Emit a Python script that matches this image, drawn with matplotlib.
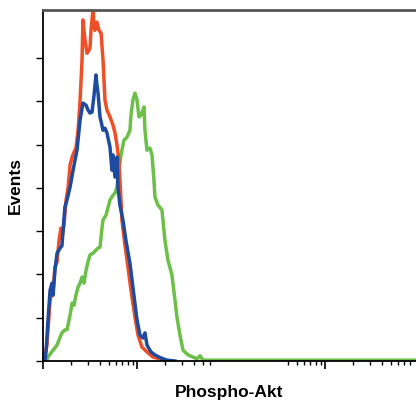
import matplotlib
matplotlib.use("Agg")
import matplotlib.pyplot as plt
from matplotlib.ticker import FixedLocator, NullFormatter

# fluorescence intensity (log scale) and event counts
red_x = [1.02, 1.05, 1.10, 1.19, 1.28, 1.34, 1.41, 1.48, 1.55, 1.59, 1.67, 1.76, 1.85, 1.94,
         2.04, 2.14, 2.24, 2.36, 2.48, 2.60, 2.66, 2.80, 2.94, 3.08, 3.16, 3.24, 3.40, 3.49,
         3.57, 3.75, 3.94, 4.14, 4.35, 4.56, 4.79, 5.16, 5.55, 5.83, 6.12, 6.42, 6.75, 6.91,
         7.44, 8.01, 8.62, 9.50, 10.24, 11.29, 12.76, 14.78, 17.54, 19.82]
red_y = [0, 0.14, 0.37, 1.41, 1.64, 2.17, 2.29, 2.79, 3.07, 2.84, 3.14, 3.72, 4.02, 4.53,
         4.71, 4.83, 4.92, 5.33, 6.03, 6.95, 7.88, 7.41, 7.11, 7.18, 7.23, 7.64, 8.11, 7.76,
         7.64, 7.83, 7.64, 7.58, 6.95, 6.03, 5.80, 5.64, 5.45, 5.27, 4.99, 4.64, 3.72, 3.26,
         2.68, 2.17, 1.64, 1.02, 0.60, 0.32, 0.21, 0.09, 0.05, 0]

blue_x = [1.05, 1.08, 1.13, 1.19, 1.25, 1.28, 1.34, 1.41, 1.52, 1.59, 1.63, 1.71, 1.80, 1.94,
          2.09, 2.19, 2.30, 2.48, 2.66, 2.87, 3.01, 3.16, 3.32, 3.49, 3.66, 3.75, 3.85, 4.04,
          4.35, 4.56, 4.79, 5.16, 5.41, 5.55, 5.83, 6.12, 6.27, 6.58, 7.08, 7.62, 8.41, 9.27,
          10.0, 10.75, 11.57, 12.15, 12.76, 14.07, 15.52, 17.97, 20.81, 25.32]
blue_y = [0, 0.25, 0.95, 1.64, 1.80, 1.52, 2.10, 2.49, 2.61, 2.66, 2.98, 3.56, 3.72, 4.02,
          4.41, 4.64, 4.87, 5.57, 5.96, 5.91, 5.80, 5.73, 5.75, 6.14, 6.61, 6.37, 6.19, 5.64,
          5.33, 5.38, 5.27, 4.94, 4.41, 4.76, 4.25, 4.71, 4.02, 3.60, 3.26, 2.79, 2.26, 1.52,
          0.95, 0.60, 0.53, 0.65, 0.37, 0.21, 0.14, 0.07, 0.02, 0]

green_x = [1.08, 1.13, 1.19, 1.28, 1.41, 1.52, 1.59, 1.71, 1.80, 1.94, 2.04, 2.14, 2.24, 2.36,
           2.48, 2.60, 2.73, 2.87, 3.01, 3.16, 3.40, 3.66, 3.85, 4.04, 4.24, 4.35, 4.68, 5.16,
           5.55, 5.83, 6.12, 6.42, 6.75, 6.91, 7.26, 7.81, 8.41, 8.62, 9.05, 9.50, 10.0, 10.49,
           11.02, 11.57, 11.86, 12.15, 12.76, 13.73, 14.42, 15.14, 15.52, 16.70, 18.42, 19.82,
           21.33, 23.51, 25.32, 26.58, 28.63, 30.85, 34.90, 39.47, 43.50, 46.83, 50.45, 59.82, 9290]
green_y = [0, 0.09, 0.16, 0.25, 0.37, 0.55, 0.65, 0.72, 0.72, 1.06, 1.34, 1.29, 1.52, 1.71,
           1.80, 1.94, 1.80, 2.10, 2.29, 2.45, 2.49, 2.56, 2.61, 2.63, 3.07, 3.26, 3.37, 3.72,
           3.83, 3.88, 4.02, 4.41, 4.76, 4.87, 5.10, 5.17, 5.33, 5.68, 6.03, 6.19, 6.03, 5.64,
           5.68, 5.80, 5.87, 5.33, 4.87, 4.92, 4.76, 4.18, 3.79, 3.60, 3.49, 2.79,
           2.33, 1.99, 1.41, 1.02, 0.60, 0.25, 0.14, 0.09, 0.05, 0.12, 0.02, 0.02, 0.02]

y_ticks = [0, 1, 2, 3, 4, 5, 6, 7]
x_major = [1, 10, 1000]
x_minor = [2, 3, 4, 5, 6, 7, 8, 9, 20, 30, 40, 50, 60,
           400, 500, 600, 700, 800, 900, 2000, 3000, 4000, 5000, 6000, 7000, 8000]

plt.rcParams['font.family'] = ['Liberation Sans', 'DejaVu Sans']

fig = plt.figure(figsize=(4.16, 4.0), dpi=100)
ax = fig.add_axes([0.1034, 0.0975, 0.8966, 0.8775])

ax.plot(green_x, green_y, color='#6cbf48', lw=2.5, solid_joinstyle='round')
ax.plot(red_x, red_y, color='#ee4f26', lw=2.5, solid_joinstyle='round')
ax.plot(blue_x, blue_y, color='#1c4ba0', lw=2.5, solid_joinstyle='round')

ax.set_xscale('log')
ax.set_xlim(1, 9290)
ax.set_ylim(0, 8.11)

ax.xaxis.set_major_locator(FixedLocator(x_major))
ax.xaxis.set_minor_locator(FixedLocator(x_minor))
ax.xaxis.set_major_formatter(NullFormatter())
ax.xaxis.set_minor_formatter(NullFormatter())
ax.set_yticks(y_ticks)
ax.set_yticklabels([])
ax.tick_params(axis='x', which='major', length=6, width=1.2, direction='out')
ax.tick_params(axis='x', which='minor', length=3, width=1.0, direction='out')
ax.tick_params(axis='y', length=5, width=1.0, direction='out')

ax.spines['right'].set_visible(False)
ax.spines['top'].set_color('#555555')
ax.spines['top'].set_linewidth(2.0)
ax.spines['left'].set_linewidth(1.3)
ax.spines['bottom'].set_linewidth(1.3)

ax.set_xlabel('Phospho-Akt', fontsize=12.5, fontweight='bold', labelpad=8)
ax.set_ylabel('Events', fontsize=12.5, fontweight='bold', labelpad=6)

fig.savefig('out.png', dpi=100)
